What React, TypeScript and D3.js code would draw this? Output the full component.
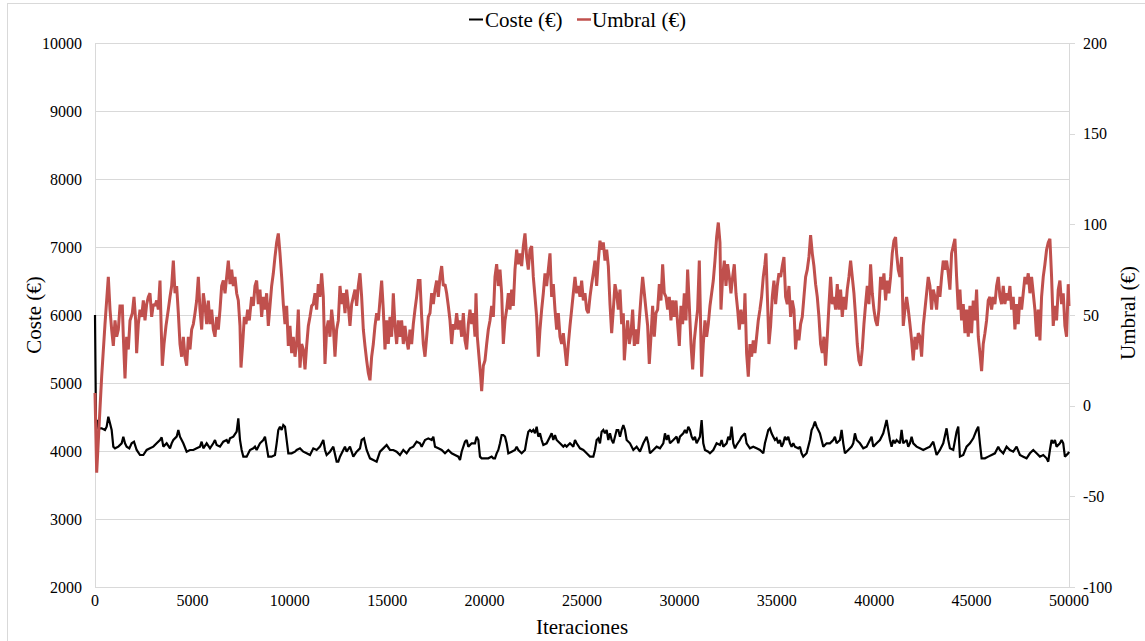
import React from "react";
import * as d3 from "d3";

const xTicks = [0, 5000, 10000, 15000, 20000, 25000, 30000, 35000, 40000, 45000, 50000];
const leftTicks = [2000, 3000, 4000, 5000, 6000, 7000, 8000, 9000, 10000];
const rightTicks = [-100, -50, 0, 50, 100, 150, 200];
const seriesNames = ["Coste (€)", "Umbral (€)"];
const xTitle = "Iteraciones";

// Coste (€) — [iteración, valor]
const coste: [number, number][] = [
  [0, 6000], [51, 4407], [120, 4456], [171, 4333], [342, 4333], [513, 4309], [599, 4358], [684, 4505], [770, 4407], [855, 4309],
  [941, 4064], [1027, 4039], [1198, 4064], [1369, 4113], [1454, 4211], [1540, 4113], [1625, 4064], [1762, 4039], [1882, 4113], [2002, 4137],
  [2139, 4015], [2310, 3941], [2481, 3941], [2652, 4015], [2823, 4039], [2994, 4064], [3165, 4113], [3336, 4162], [3422, 4201], [3508, 4064],
  [3679, 4113], [3850, 4039], [3935, 4113], [4021, 4162], [4192, 4211], [4278, 4309], [4363, 4211], [4534, 4113], [4705, 3990], [4876, 4015],
  [5047, 4015], [5219, 4039], [5390, 4064], [5475, 4137], [5561, 4039], [5732, 4113], [5903, 4039], [6074, 4113], [6160, 4162], [6245, 4088],
  [6416, 4064], [6587, 4137], [6758, 4162], [6844, 4113], [6930, 4186], [7101, 4211], [7272, 4284], [7357, 4480], [7443, 4162], [7528, 4015],
  [7614, 3917], [7785, 3917], [7956, 4015], [8127, 4039], [8213, 4064], [8298, 4015], [8469, 4113], [8641, 4162], [8726, 4211], [8812, 4064],
  [8897, 3917], [9068, 3917], [9239, 3941], [9325, 4113], [9410, 4309], [9496, 4358], [9582, 4309], [9667, 4382], [9753, 4358], [9838, 4162],
  [9924, 3966], [10095, 3966], [10266, 3990], [10352, 4015], [10523, 4039], [10694, 3990], [10865, 3966], [11036, 3941], [11207, 4039], [11378, 4015],
  [11549, 4064], [11720, 4162], [11806, 4015], [11891, 3941], [12063, 3990], [12234, 4064], [12405, 3843], [12490, 3843], [12576, 3917], [12747, 4015],
  [12832, 4064], [12918, 3990], [13089, 4064], [13260, 3917], [13431, 3990], [13602, 4039], [13688, 4162], [13808, 4186], [13945, 4015], [14116, 3892],
  [14287, 3868], [14458, 3843], [14544, 3917], [14629, 3990], [14800, 4039], [14971, 4088], [15142, 4015], [15313, 4015], [15484, 3990], [15655, 3941],
  [15826, 4015], [15997, 3966], [16168, 4039], [16339, 4064], [16511, 4137], [16682, 4113], [16769, 4064], [16940, 4162], [17111, 4186], [17283, 4162],
  [17368, 4211], [17454, 4064], [17625, 4039], [17796, 4015], [17967, 3966], [18138, 4015], [18309, 3966], [18480, 3941], [18651, 3917], [18737, 3868],
  [18822, 3990], [18994, 4137], [19079, 4162], [19165, 4064], [19336, 4113], [19507, 4113], [19592, 4211], [19678, 4162], [19763, 3917], [19849, 3892],
  [20020, 3892], [20191, 3892], [20362, 3917], [20448, 3892], [20533, 3892], [20619, 3966], [20705, 4015], [20790, 4113], [20876, 4235], [20961, 4235],
  [21047, 4211], [21132, 4113], [21218, 3966], [21389, 3990], [21560, 4015], [21646, 4064], [21731, 4015], [21902, 3966], [22073, 4015], [22159, 4162],
  [22244, 4284], [22330, 4309], [22415, 4284], [22501, 4309], [22587, 4260], [22672, 4358], [22758, 4211], [22843, 4260], [22929, 4162], [23014, 4088],
  [23185, 4113], [23356, 4211], [23442, 4260], [23527, 4162], [23613, 4235], [23698, 4162], [23870, 4113], [24041, 4064], [24126, 4088], [24212, 4064],
  [24383, 4113], [24554, 4064], [24640, 4162], [24725, 4113], [24897, 4039], [25068, 4015], [25239, 3966], [25410, 3917], [25581, 3917], [25666, 4015],
  [25752, 4162], [25837, 4186], [25923, 4113], [26008, 4284], [26094, 4309], [26179, 4260], [26265, 4309], [26351, 4162], [26436, 4260], [26522, 4162],
  [26607, 4113], [26779, 4309], [26864, 4309], [26950, 4211], [27035, 4309], [27121, 4382], [27206, 4309], [27292, 4162], [27463, 4113], [27634, 4015],
  [27805, 4064], [27976, 3990], [28147, 4113], [28233, 4162], [28318, 4211], [28404, 4113], [28489, 3966], [28660, 4015], [28832, 4064], [29003, 4039],
  [29174, 4113], [29259, 4260], [29345, 4162], [29430, 4235], [29516, 4113], [29687, 4162], [29858, 4211], [29943, 4113], [30029, 4211], [30200, 4260],
  [30286, 4309], [30371, 4260], [30457, 4358], [30542, 4309], [30628, 4211], [30713, 4162], [30799, 4211], [30884, 4113], [30970, 4162], [31055, 4211],
  [31141, 4456], [31226, 4113], [31312, 4015], [31483, 3990], [31569, 3966], [31740, 4015], [31911, 4113], [32082, 4088], [32168, 4162], [32253, 4064],
  [32424, 4113], [32510, 4211], [32595, 4162], [32681, 4358], [32766, 4113], [32852, 4039], [32937, 4088], [33108, 4162], [33194, 4211], [33365, 4260],
  [33450, 4113], [33621, 4039], [33792, 4064], [33964, 4039], [34135, 4015], [34306, 3966], [34391, 4113], [34477, 4211], [34562, 4309], [34648, 4333],
  [34733, 4260], [34819, 4211], [34905, 4162], [34990, 4186], [35076, 4113], [35161, 4162], [35247, 4064], [35332, 4113], [35418, 4211], [35503, 4162],
  [35589, 4211], [35675, 4113], [35760, 4064], [35846, 4113], [35931, 4064], [36102, 4039], [36188, 4064], [36273, 3966], [36359, 3917], [36530, 3966],
  [36701, 4162], [36787, 4309], [36872, 4358], [36958, 4431], [37043, 4358], [37129, 4309], [37214, 4260], [37300, 4162], [37386, 4064], [37557, 4113],
  [37728, 4113], [37899, 4162], [37984, 4211], [38070, 4113], [38241, 4162], [38327, 4309], [38412, 4113], [38498, 3966], [38669, 4015], [38840, 4064],
  [38925, 4113], [39011, 4260], [39097, 4162], [39268, 4113], [39439, 4039], [39610, 4064], [39781, 4162], [39866, 4211], [39952, 4064], [40123, 4113],
  [40294, 4162], [40465, 4260], [40551, 4358], [40636, 4456], [40722, 4309], [40808, 4162], [40893, 4064], [40979, 4162], [41064, 4113], [41150, 4162],
  [41321, 4113], [41406, 4309], [41492, 4113], [41663, 4162], [41748, 4064], [41834, 4113], [41920, 4211], [42005, 4113], [42176, 4064], [42347, 4039],
  [42519, 4015], [42690, 4039], [42861, 4064], [43032, 4137], [43203, 3941], [43374, 4015], [43545, 4113], [43716, 4333], [43802, 4162], [43887, 4039],
  [44058, 4015], [44229, 4284], [44315, 4358], [44401, 3917], [44572, 3941], [44743, 4064], [44914, 4113], [45085, 4186], [45256, 4309], [45342, 4358],
  [45427, 4113], [45513, 3892], [45684, 3892], [45855, 3917], [46026, 3941], [46197, 3966], [46368, 4064], [46454, 4015], [46625, 3966], [46796, 4064],
  [46967, 4015], [47138, 3990], [47309, 4064], [47480, 3941], [47652, 3917], [47823, 3892], [47994, 3966], [48165, 4015], [48336, 3966], [48507, 3917],
  [48678, 3941], [48849, 3892], [48935, 3843], [49020, 4015], [49106, 4162], [49191, 4113], [49277, 4162], [49362, 4064], [49533, 4113], [49619, 4162],
  [49704, 4113], [49790, 3917], [49961, 3966], [50000, 3990],
];

// Umbral (€) — [iteración, valor]
const umbral: [number, number][] = [
  [0, 7], [86, -37], [171, -19], [342, 16], [513, 45], [684, 71], [770, 53], [855, 42], [941, 33], [1027, 47],
  [1112, 38], [1198, 42], [1283, 55], [1403, 55], [1454, 38], [1540, 15], [1625, 38], [1711, 31], [1797, 47], [1916, 51],
  [2002, 60], [2087, 47], [2138, 29], [2224, 45], [2310, 53], [2395, 49], [2481, 58], [2566, 47], [2652, 56], [2737, 60],
  [2823, 62], [2909, 49], [2994, 56], [3080, 55], [3165, 58], [3251, 53], [3337, 69], [3388, 47], [3456, 22], [3542, 34],
  [3644, 44], [3764, 53], [3850, 60], [3935, 66], [4021, 80], [4107, 62], [4192, 66], [4278, 51], [4363, 34], [4449, 27],
  [4534, 38], [4620, 27], [4706, 22], [4791, 38], [4877, 31], [4962, 42], [5048, 45], [5133, 51], [5219, 58], [5304, 71],
  [5390, 53], [5476, 42], [5561, 62], [5647, 55], [5732, 45], [5818, 58], [5904, 45], [5989, 53], [6075, 42], [6160, 38],
  [6246, 49], [6331, 42], [6417, 53], [6502, 66], [6588, 69], [6674, 62], [6759, 71], [6844, 80], [6930, 67], [7016, 75],
  [7101, 66], [7186, 71], [7272, 62], [7357, 58], [7443, 44], [7494, 21], [7580, 34], [7665, 49], [7751, 45], [7836, 53],
  [7922, 47], [8041, 60], [8127, 55], [8212, 66], [8298, 69], [8383, 56], [8469, 64], [8555, 49], [8640, 60], [8726, 53],
  [8811, 62], [8897, 44], [8983, 55], [9068, 66], [9154, 73], [9239, 82], [9325, 90], [9410, 95], [9496, 84], [9582, 71],
  [9667, 56], [9753, 45], [9838, 55], [9924, 33], [10009, 44], [10095, 29], [10180, 38], [10266, 27], [10352, 34], [10437, 53],
  [10523, 21], [10608, 34], [10694, 31], [10780, 20], [10865, 33], [10951, 44], [11036, 49], [11122, 55], [11207, 56], [11293, 62],
  [11378, 53], [11464, 67], [11549, 60], [11635, 73], [11721, 60], [11806, 23], [11892, 42], [11977, 47], [12063, 38], [12148, 53],
  [12234, 44], [12319, 27], [12405, 42], [12491, 47], [12576, 66], [12662, 56], [12747, 62], [12833, 51], [12918, 64], [13004, 55],
  [13089, 44], [13175, 56], [13261, 60], [13346, 64], [13432, 55], [13517, 66], [13603, 73], [13688, 60], [13774, 42], [13859, 33],
  [13945, 25], [14031, 18], [14116, 14], [14202, 27], [14287, 34], [14373, 44], [14458, 51], [14544, 47], [14629, 58], [14715, 69],
  [14800, 53], [14886, 31], [14971, 47], [15057, 34], [15143, 49], [15228, 38], [15314, 62], [15399, 44], [15485, 34], [15570, 47],
  [15656, 38], [15741, 47], [15827, 34], [15913, 44], [15998, 36], [16084, 31], [16169, 42], [16255, 34], [16340, 45], [16426, 53],
  [16511, 60], [16597, 69], [16684, 69], [16769, 49], [16855, 34], [16940, 27], [17026, 38], [17111, 49], [17197, 51], [17282, 62],
  [17368, 56], [17453, 64], [17539, 69], [17625, 60], [17710, 71], [17796, 77], [17881, 66], [17967, 67], [18052, 62], [18138, 55],
  [18223, 47], [18309, 34], [18395, 45], [18480, 42], [18566, 51], [18651, 42], [18737, 47], [18822, 38], [18908, 51], [18993, 36],
  [19079, 31], [19165, 45], [19250, 53], [19336, 45], [19421, 51], [19507, 38], [19558, 62], [19626, 38], [19712, 27], [19798, 16],
  [19849, 8], [19935, 22], [20020, 25], [20106, 34], [20191, 42], [20277, 47], [20362, 55], [20448, 49], [20533, 71], [20619, 78],
  [20705, 66], [20790, 75], [20876, 62], [20961, 34], [21047, 47], [21132, 53], [21218, 62], [21303, 53], [21389, 64], [21474, 55],
  [21560, 75], [21646, 86], [21731, 78], [21817, 84], [21902, 77], [21988, 88], [22073, 95], [22159, 82], [22244, 75], [22330, 86],
  [22415, 88], [22501, 71], [22587, 60], [22672, 49], [22758, 27], [22843, 42], [22929, 53], [23014, 62], [23100, 73], [23185, 66],
  [23271, 75], [23357, 84], [23442, 60], [23528, 67], [23613, 53], [23699, 42], [23784, 51], [23870, 38], [23955, 34], [24041, 40],
  [24127, 31], [24212, 22], [24298, 34], [24383, 44], [24469, 53], [24554, 62], [24640, 71], [24725, 62], [24811, 66], [24897, 60],
  [24982, 69], [25068, 58], [25153, 62], [25239, 53], [25324, 51], [25410, 60], [25496, 67], [25581, 73], [25667, 80], [25752, 66],
  [25838, 80], [25923, 91], [26009, 86], [26094, 90], [26180, 80], [26266, 86], [26351, 77], [26437, 56], [26522, 40], [26608, 53],
  [26693, 67], [26779, 62], [26864, 53], [26950, 64], [27036, 45], [27121, 51], [27172, 25], [27258, 38], [27343, 47], [27429, 34],
  [27514, 40], [27600, 53], [27686, 33], [27771, 42], [27857, 34], [27942, 47], [28028, 60], [28113, 71], [28199, 62], [28284, 53],
  [28370, 44], [28455, 23], [28541, 38], [28626, 55], [28712, 38], [28797, 51], [28883, 53], [28969, 67], [29054, 58], [29140, 78],
  [29225, 62], [29311, 60], [29396, 53], [29482, 60], [29567, 47], [29653, 58], [29739, 49], [29824, 58], [29910, 45], [29995, 33],
  [30081, 55], [30166, 45], [30252, 62], [30338, 47], [30423, 75], [30509, 55], [30594, 34], [30680, 20], [30765, 36], [30851, 45],
  [30936, 53], [31022, 80], [31073, 53], [31141, 16], [31227, 34], [31312, 47], [31398, 38], [31483, 45], [31569, 55], [31655, 62],
  [31740, 69], [31826, 80], [31911, 93], [31997, 101], [32083, 90], [32134, 53], [32220, 71], [32305, 80], [32391, 66], [32476, 78],
  [32562, 71], [32647, 62], [32733, 71], [32818, 78], [32904, 62], [32990, 53], [33075, 42], [33161, 53], [33246, 45], [33332, 51],
  [33365, 62], [33450, 29], [33536, 16], [33621, 34], [33707, 27], [33792, 36], [33878, 29], [33964, 38], [34049, 47], [34135, 53],
  [34220, 60], [34306, 71], [34391, 78], [34443, 84], [34511, 62], [34597, 34], [34682, 44], [34768, 60], [34853, 69], [34939, 56],
  [35024, 66], [35110, 73], [35196, 71], [35281, 77], [35367, 82], [35452, 60], [35538, 56], [35623, 66], [35709, 49], [35794, 58],
  [35880, 53], [35965, 31], [36051, 42], [36136, 36], [36222, 45], [36308, 49], [36393, 60], [36479, 71], [36564, 75], [36650, 82],
  [36735, 94], [36821, 84], [36906, 77], [36992, 67], [37078, 60], [37163, 49], [37249, 34], [37334, 29], [37420, 38], [37505, 22],
  [37591, 38], [37676, 55], [37762, 71], [37847, 56], [37933, 60], [38019, 53], [38104, 67], [38190, 53], [38275, 64], [38361, 49],
  [38446, 60], [38532, 53], [38617, 64], [38703, 71], [38789, 80], [38874, 71], [38960, 62], [39045, 49], [39131, 34], [39216, 25],
  [39302, 22], [39387, 31], [39473, 45], [39558, 56], [39644, 66], [39730, 56], [39815, 78], [39901, 62], [39986, 53], [40072, 47],
  [40157, 44], [40243, 53], [40328, 71], [40414, 64], [40500, 73], [40585, 58], [40671, 69], [40756, 62], [40842, 71], [40927, 84],
  [41013, 91], [41098, 93], [41150, 84], [41235, 75], [41321, 71], [41406, 82], [41492, 44], [41577, 53], [41663, 60], [41749, 53],
  [41834, 45], [41920, 36], [42005, 25], [42091, 38], [42176, 31], [42262, 40], [42347, 38], [42433, 27], [42519, 44], [42604, 53],
  [42690, 62], [42775, 71], [42861, 66], [42946, 53], [43032, 64], [43117, 60], [43203, 53], [43288, 66], [43374, 60], [43460, 71],
  [43545, 80], [43631, 75], [43716, 80], [43802, 73], [43887, 64], [43973, 84], [44058, 88], [44144, 92], [44230, 71], [44315, 53],
  [44401, 64], [44486, 47], [44572, 56], [44657, 40], [44743, 53], [44828, 38], [44914, 55], [44999, 40], [45085, 58], [45170, 47],
  [45256, 64], [45342, 38], [45427, 29], [45513, 19], [45598, 34], [45684, 40], [45769, 47], [45855, 58], [45940, 60], [46026, 53],
  [46111, 60], [46197, 56], [46283, 66], [46368, 71], [46454, 60], [46539, 56], [46625, 66], [46710, 56], [46796, 62], [46881, 58],
  [46967, 66], [47053, 53], [47138, 60], [47224, 42], [47309, 56], [47395, 45], [47480, 60], [47566, 53], [47651, 62], [47737, 71],
  [47823, 67], [47908, 73], [47994, 62], [48079, 71], [48165, 62], [48250, 53], [48336, 38], [48421, 53], [48507, 36], [48592, 60],
  [48678, 71], [48764, 78], [48849, 86], [48935, 90], [49020, 92], [49106, 71], [49191, 44], [49277, 55], [49362, 47], [49448, 64],
  [49533, 69], [49619, 56], [49704, 62], [49790, 44], [49876, 38], [49961, 67], [50000, 55],
];

const FONT = "Liberation Serif";
const GRID = "#d9d9d9";
const RED = "#C0504D";

export default function App() {
  const W = 1145;
  const H = 641;
  const left = 95;
  const right = 1069;
  const top = 43;
  const bottom = 587;

  const x = d3.scaleLinear().domain([0, 50000]).range([left, right]);
  const yL = d3.scaleLinear().domain([2000, 10000]).range([bottom, top]);
  const yR = d3.scaleLinear().domain([-100, 200]).range([bottom, top]);

  const lineC = d3
    .line<[number, number]>()
    .x((d) => x(d[0]))
    .y((d) => yL(d[1]));
  const lineU = d3
    .line<[number, number]>()
    .x((d) => x(d[0]))
    .y((d) => yR(d[1]));

  const txt = { fontFamily: FONT, fill: "#000" } as const;

  return (
    <svg
      width={W}
      height={H}
      style={{ position: "absolute", left: 0, top: 0, background: "#fff", fontFamily: "'Liberation Serif', serif" }}
    >
      <rect x={7.5} y={3.5} width={W + 10} height={H + 10} fill="#fff" stroke={GRID} strokeWidth={1} />

      {leftTicks.map((t) => (
        <line key={"g" + t} x1={left} x2={right} y1={Math.round(yL(t)) + 0.5} y2={Math.round(yL(t)) + 0.5} stroke={GRID} strokeWidth={1} />
      ))}
      <line x1={left + 0.5} x2={left + 0.5} y1={top} y2={bottom} stroke={GRID} strokeWidth={1} />
      <line x1={right + 0.5} x2={right + 0.5} y1={top} y2={bottom + 0.5} stroke={GRID} strokeWidth={1} />
      {rightTicks.map((t) => (
        <line key={"rt" + t} x1={right} x2={right + 6} y1={Math.round(yR(t)) + 0.5} y2={Math.round(yR(t)) + 0.5} stroke={GRID} strokeWidth={1} />
      ))}

      {leftTicks.map((t) => (
        <text key={"lt" + t} {...txt} x={82} y={yL(t)} dy="0.35em" textAnchor="end" fontSize={16}>
          {t}
        </text>
      ))}
      {rightTicks.map((t) => (
        <text key={"rl" + t} {...txt} x={1083} y={yR(t)} dy="0.35em" textAnchor="start" fontSize={16}>
          {t}
        </text>
      ))}
      {xTicks.map((t) => (
        <text key={"xt" + t} {...txt} x={x(t)} y={606} textAnchor="middle" fontSize={16}>
          {t}
        </text>
      ))}

      <path d={lineC(coste) || ""} fill="none" stroke="#000" strokeWidth={2.2} strokeLinejoin="miter" strokeMiterlimit={2} />
      <path d={lineU(umbral) || ""} fill="none" stroke={RED} strokeWidth={3} strokeLinejoin="miter" strokeMiterlimit={2} />

      <text {...txt} x={582} y={634} textAnchor="middle" fontSize={21}>
        {xTitle}
      </text>
      <text {...txt} transform="translate(34,315) rotate(-90)" dy="0.35em" textAnchor="middle" fontSize={21}>
        {seriesNames[0]}
      </text>
      <text {...txt} transform="translate(1128,313) rotate(-90)" dy="0.35em" textAnchor="middle" fontSize={21}>
        {seriesNames[1]}
      </text>

      <line x1={469} x2={483} y1={19.5} y2={19.5} stroke="#000" strokeWidth={2} />
      <text {...txt} x={485} y={27} fontSize={21}>
        {seriesNames[0]}
      </text>
      <line x1={577} x2={591} y1={19.5} y2={19.5} stroke={RED} strokeWidth={2.5} />
      <text {...txt} x={592} y={27} fontSize={21}>
        {seriesNames[1]}
      </text>
    </svg>
  );
}
